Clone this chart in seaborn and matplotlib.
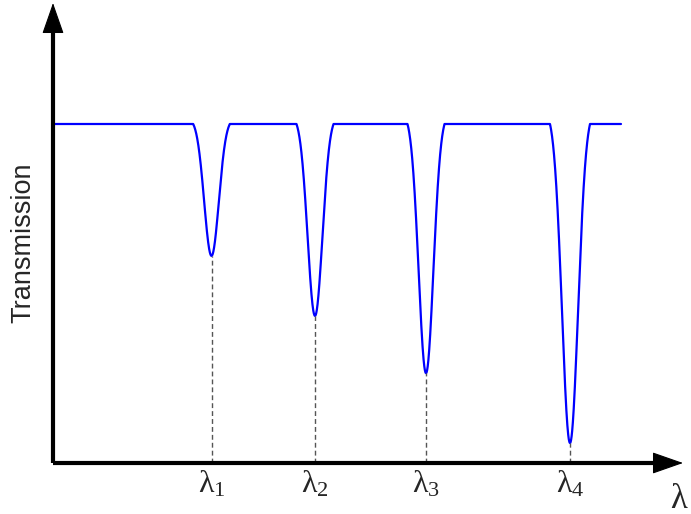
import numpy as np
import pandas as pd
import seaborn as sns
import matplotlib.pyplot as plt

sns.set_style('white')
plt.rcParams['font.family'] = ['Liberation Sans', 'DejaVu Sans']
plt.rcParams['mathtext.fontset'] = 'custom'
plt.rcParams['mathtext.rm'] = 'Liberation Serif'
plt.rcParams['mathtext.it'] = 'Liberation Serif'

# resonance dips: position along the wavelength axis, lowest transmission, half width
centers = [158.5, 262, 373, 517]
minima = [0.611, 0.434, 0.265, 0.059]
halfwidths = [18.3, 18.5, 18.5, 20.0]
dip_labels = [r'$\lambda_1$', r'$\lambda_2$', r'$\lambda_3$', r'$\lambda_4$']
baseline = 1.0
x_start, x_end = 2, 568
x_max, y_max = 630, 460 / 339

# build the transmission curve from the dips (truncated gaussian shape)
x = np.union1d(np.linspace(x_start, x_end, 4000), centers)
y = np.full_like(x, baseline)
edge = np.exp(-0.5 * 2.5 ** 2)
for c, m, w in zip(centers, minima, halfwidths):
    u = (x - c) / w
    g = (np.exp(-0.5 * (2.5 * u) ** 2) - edge) / (1 - edge)
    y = np.where(np.abs(u) <= 1, y - (baseline - m) * g, y)
df = pd.DataFrame({'wavelength': x, 'transmission': y})

fig = plt.figure(figsize=(6.91, 5.14), dpi=100)
ax = fig.add_axes([53 / 691, 51 / 514, 630 / 691, 460 / 514])
sns.lineplot(data=df, x='wavelength', y='transmission', color='#0000ff', lw=1.6, ax=ax)
ax.vlines(centers, 0, minima, colors='#555555', lw=1, linestyles=(0, (3.5, 2.2)))

ax.set_xlim(0, x_max)
ax.set_ylim(0, y_max)
for s in ax.spines.values():
    s.set_visible(False)
ax.set_xlabel('')
ax.set_ylabel('')
ax.set_yticks([])
ax.set_xticks(centers, dip_labels, fontsize=23)
ax.tick_params(axis='x', length=0, pad=4)

# axes with arrow heads
ax.plot([0, 1 - 26 / 630], [0, 0], color='k', lw=3, transform=ax.transAxes,
        clip_on=False, solid_capstyle='butt')
ax.plot([0, 0], [0, 1 - 28 / 460], color='k', lw=3, transform=ax.transAxes,
        clip_on=False, solid_capstyle='butt')
head = dict(arrowstyle='-|>,head_length=20,head_width=7', mutation_scale=1,
            lw=0.8, color='k', shrinkA=0, shrinkB=0)
ax.annotate('', xy=(1, 0), xytext=(1 - 30 / 630, 0), xycoords='axes fraction',
            arrowprops=head, annotation_clip=False)
ax.annotate('', xy=(0, 1), xytext=(0, 1 - 32 / 460), xycoords='axes fraction',
            arrowprops=head, annotation_clip=False)

fig.text(670 / 691, 1 - 499 / 514, r'$\lambda$', fontsize=25, ha='left', va='center')
fig.text(23 / 691, 1 - 243 / 514, 'Transmission', rotation=90, ha='center',
         va='center', fontsize=19.5)

fig.savefig('out.png', dpi=100)
